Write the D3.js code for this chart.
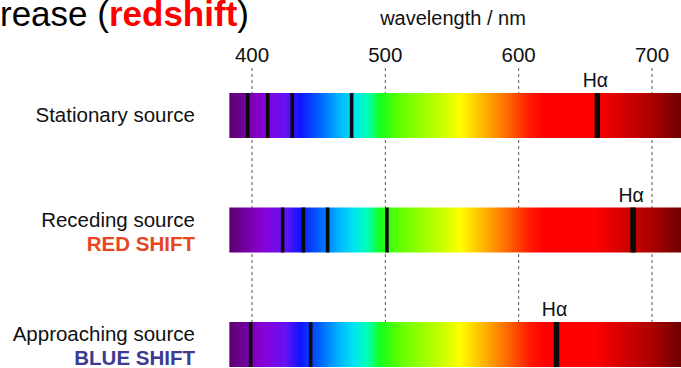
<!DOCTYPE html>
<html>
<head>
<meta charset="utf-8">
<script src="https://cdn.jsdelivr.net/npm/d3@7"></script>
<style>
  body { margin: 0; background: #fff; }
  text { font-family: "Liberation Sans", Arial, Helvetica, sans-serif; }
</style>
</head>
<body>
<script>
var width = 681, height = 368;

// data (wavelengths in nm)
var tickValues = [400, 500, 600, 700];
var sourceNames = ["Stationary source", "Receding source", "Approaching source"];
var shiftNames = ["", "RED SHIFT", "BLUE SHIFT"];
var shiftColors = ["#000", "#e8461e", "#3b3b8f"];
var stationaryLines = [396.8, 411.8, 430.2, 474.7, 659.0];
var recedingLines = [423.0, 438.5, 456.7, 501.2, 685.8];
var approachingLines = [399.0, 444.0, 628.4];
var spectrumRange = [383, 722];

// colour of the spectrum at a given wavelength
var spectrumStops = [
	[383, "#5e006e"], [395, "#7000a0"], [407, "#8a00d2"], [425, "#6612f6"],
	[436, "#1014ff"], [451, "#0062ff"], [466, "#00b8ff"], [477, "#00e6f0"],
	[487, "#00ffb0"], [496, "#14ff1e"], [511, "#62ff00"], [541, "#c4ff00"],
	[556, "#ffff00"], [571, "#ffc000"], [590, "#ff7000"], [608, "#ff1c00"],
	[619, "#ff0000"], [657, "#ff0000"], [676, "#d80000"], [698, "#b00000"],
	[722, "#6e0000"]
];

var lineSets = [stationaryLines, recedingLines, approachingLines];

var x = d3.scaleLinear()
		.domain([400, 700])
		.range([252, 652]);

var rowY = d3.scaleLinear()
		.domain([0, 2])
		.range([93, 322]);
var barHeight = 45;

var svg = d3.select("body")
	.append("svg")
		.attr("width", width)
		.attr("height", height);

var grad = svg.append("defs")
	.append("linearGradient")
		.attr("id", "spectrum")
		.attr("gradientUnits", "userSpaceOnUse")
		.attr("x1", x(spectrumRange[0]))
		.attr("x2", x(spectrumRange[1]))
		.attr("y1", 0)
		.attr("y2", 0);

grad.selectAll("stop")
		.data(spectrumStops)
	.enter()
	.append("stop")
		.attr("offset", function(d) { return (d[0] - spectrumRange[0]) / (spectrumRange[1] - spectrumRange[0]); })
		.attr("stop-color", function(d) { return d[1]; });

// title fragment, cut at the left edge like the source picture
var title = svg.append("text")
		.attr("x", 0)
		.attr("y", 26)
		.attr("font-size", "35px");
title.append("tspan").text("rease (");
title.append("tspan")
		.attr("font-weight", "bold")
		.attr("fill", "#ff0000")
		.text("redshift");
title.append("tspan").text(")");

svg.append("text")
		.attr("x", 453)
		.attr("y", 25)
		.attr("text-anchor", "middle")
		.attr("font-size", "20px")
		.attr("fill", "#111")
		.text("wavelength / nm");

// dashed wavelength guides
var ticks = svg.append("g").attr("class", "ticks");
ticks.selectAll("line")
		.data(tickValues)
	.enter()
	.append("line")
		.attr("x1", function(d) { return x(d); })
		.attr("x2", function(d) { return x(d); })
		.attr("y1", 68)
		.attr("y2", height)
		.attr("stroke", "#555")
		.attr("stroke-width", 1)
		.attr("stroke-dasharray", "3,3");

ticks.selectAll("text")
		.data(tickValues)
	.enter()
	.append("text")
		.attr("x", function(d) { return x(d); })
		.attr("y", 62)
		.attr("text-anchor", "middle")
		.attr("font-size", "20.5px")
		.attr("fill", "#111")
		.text(function(d) { return d; });

// one row per source
var rows = svg.selectAll("g.row")
		.data(sourceNames)
	.enter()
	.append("g")
		.attr("class", "row");

rows.append("rect")
		.attr("x", x(spectrumRange[0]))
		.attr("y", function(d, i) { return rowY(i); })
		.attr("width", x(spectrumRange[1]) - x(spectrumRange[0]))
		.attr("height", barHeight)
		.attr("fill", "url(#spectrum)");

rows.each(function(d, i) {
	var g = d3.select(this);
	var lines = lineSets[i];
	var top = rowY(i);
	g.selectAll("rect.absorb")
			.data(lines)
		.enter()
		.append("rect")
			.attr("class", "absorb")
			.attr("x", function(l, j) { return x(l) - (j === lines.length - 1 ? 2.7 : 1.8); })
			.attr("y", top)
			.attr("width", function(l, j) { return j === lines.length - 1 ? 5.4 : 3.6; })
			.attr("height", barHeight)
			.attr("fill", "#0a0a0a");

	// H-alpha is the reddest line of each set
	g.append("text")
			.attr("x", x(lines[lines.length - 1]) - 2)
			.attr("y", top - 6)
			.attr("text-anchor", "middle")
			.attr("font-size", "19.5px")
			.attr("fill", "#111")
			.text("H\u03b1");

	g.append("text")
			.attr("x", 195)
			.attr("y", shiftNames[i] ? top + 19 : top + 29)
			.attr("text-anchor", "end")
			.attr("font-size", "20.5px")
			.attr("fill", "#111")
			.text(d);

	if (shiftNames[i]) {
		g.append("text")
				.attr("x", 195)
				.attr("y", top + 43)
				.attr("text-anchor", "end")
				.attr("font-size", "20.5px")
				.attr("font-weight", "bold")
				.attr("fill", shiftColors[i])
				.text(shiftNames[i]);
	}
});
</script>
</body>
</html>
